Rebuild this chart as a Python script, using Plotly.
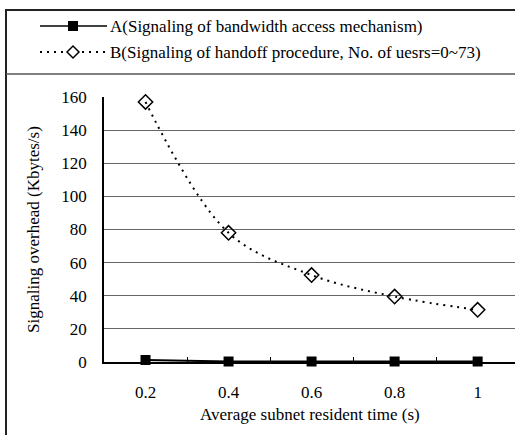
import plotly.graph_objects as go

# Data
times = ["0.2", "0.4", "0.6", "0.8", "1"]
bandwidth_access = [1.2, 0.3, 0.3, 0.3, 0.3]
handoff = [157, 78, 52.5, 39.5, 31.5]
y_ticks = [0, 20, 40, 60, 80, 100, 120, 140, 160]

label_a = "A(Signaling of bandwidth access mechanism)"
label_b = "B(Signaling of handoff procedure, No. of uesrs=0~73)"

W, H = 515, 435
L, R, T, B = 104, 0, 97, 73
PW, PH = W - L - R, H - T - B

def px(x):
    return (x - L) / PW

def py(y):
    return (H - B - y) / PH

FONT = "Times New Roman, DejaVu Serif, serif"
FS = 17

fig = go.Figure()
fig.add_trace(go.Scatter(
    x=times, y=bandwidth_access, mode="lines+markers",
    line=dict(color="black", width=2),
    marker=dict(symbol="square", size=10, color="black"),
    showlegend=False, cliponaxis=False,
))
fig.add_trace(go.Scatter(
    x=times, y=handoff, mode="lines+markers",
    line=dict(color="black", width=2, dash="2px,5px", shape="spline", smoothing=1.0),
    marker=dict(symbol="diamond-open", size=11, color="black", line=dict(width=1.5)),
    showlegend=False, cliponaxis=False,
))

shapes = [
    # outer frame
    dict(type="rect", xref="paper", yref="paper",
         x0=px(6), x1=px(530), y0=py(10), y1=py(450),
         line=dict(color="#222", width=2), layer="below"),
    # separator below legend
    dict(type="line", xref="paper", yref="paper",
         x0=px(6), x1=px(530), y0=py(74), y1=py(74),
         line=dict(color="#555", width=1.5)),
    # legend glyph A
    dict(type="line", xref="paper", yref="paper",
         x0=px(40), x1=px(107), y0=py(26), y1=py(26),
         line=dict(color="black", width=1.5)),
    dict(type="rect", xref="paper", yref="paper",
         x0=px(68), x1=px(78), y0=py(21), y1=py(31),
         fillcolor="black", line=dict(color="black", width=0)),
    # legend glyph B
    dict(type="line", xref="paper", yref="paper",
         x0=px(40), x1=px(107), y0=py(52), y1=py(52),
         line=dict(color="black", width=2, dash="2px,5px")),
    dict(type="path", xref="paper", yref="paper",
         path=f"M {px(67)},{py(52)} L {px(73)},{py(46)} L {px(79)},{py(52)} L {px(73)},{py(58)} Z",
         fillcolor="white", line=dict(color="black", width=1.5)),
]

annotations = [
    dict(text=label_a, xref="paper", yref="paper", x=px(108), y=py(26),
         xanchor="left", yanchor="middle", showarrow=False,
         font=dict(family=FONT, size=FS, color="black")),
    dict(text=label_b, xref="paper", yref="paper", x=px(108), y=py(52),
         xanchor="left", yanchor="middle", showarrow=False,
         font=dict(family=FONT, size=FS, color="black")),
    dict(text="Average subnet resident time (s)", xref="paper", yref="paper",
         x=px(310), y=py(414), xanchor="center", yanchor="middle", showarrow=False,
         font=dict(family=FONT, size=FS, color="black")),
    dict(text="Signaling overhead (Kbytes/s)", xref="paper", yref="paper",
         x=px(33), y=py(230), xanchor="center", yanchor="middle", showarrow=False,
         textangle=-90, font=dict(family=FONT, size=FS, color="black")),
]

fig.update_layout(
    width=W, height=H,
    margin=dict(l=L, r=R, t=T, b=B, pad=0),
    paper_bgcolor="white", plot_bgcolor="white",
    font=dict(family=FONT, size=FS, color="black"),
    shapes=shapes, annotations=annotations,
    xaxis=dict(
        type="category", range=[-0.5, 4.45],
        showline=True, linecolor="black", linewidth=1.5,
        showgrid=False, zeroline=False,
        tickson="boundaries", ticks="inside", ticklen=5, tickcolor="black", tickwidth=1,
        ticklabelstandoff=14,
        tickfont=dict(family=FONT, size=FS, color="black"),
    ),
    yaxis=dict(
        range=[0, 160], tickvals=y_ticks,
        showline=True, linecolor="black", linewidth=1.5,
        showgrid=True, gridcolor="#666", gridwidth=1.2,
        zeroline=False, ticks="", ticklabelstandoff=12,
        tickfont=dict(family=FONT, size=FS, color="black"),
    ),
)

fig.write_html("out.html")
